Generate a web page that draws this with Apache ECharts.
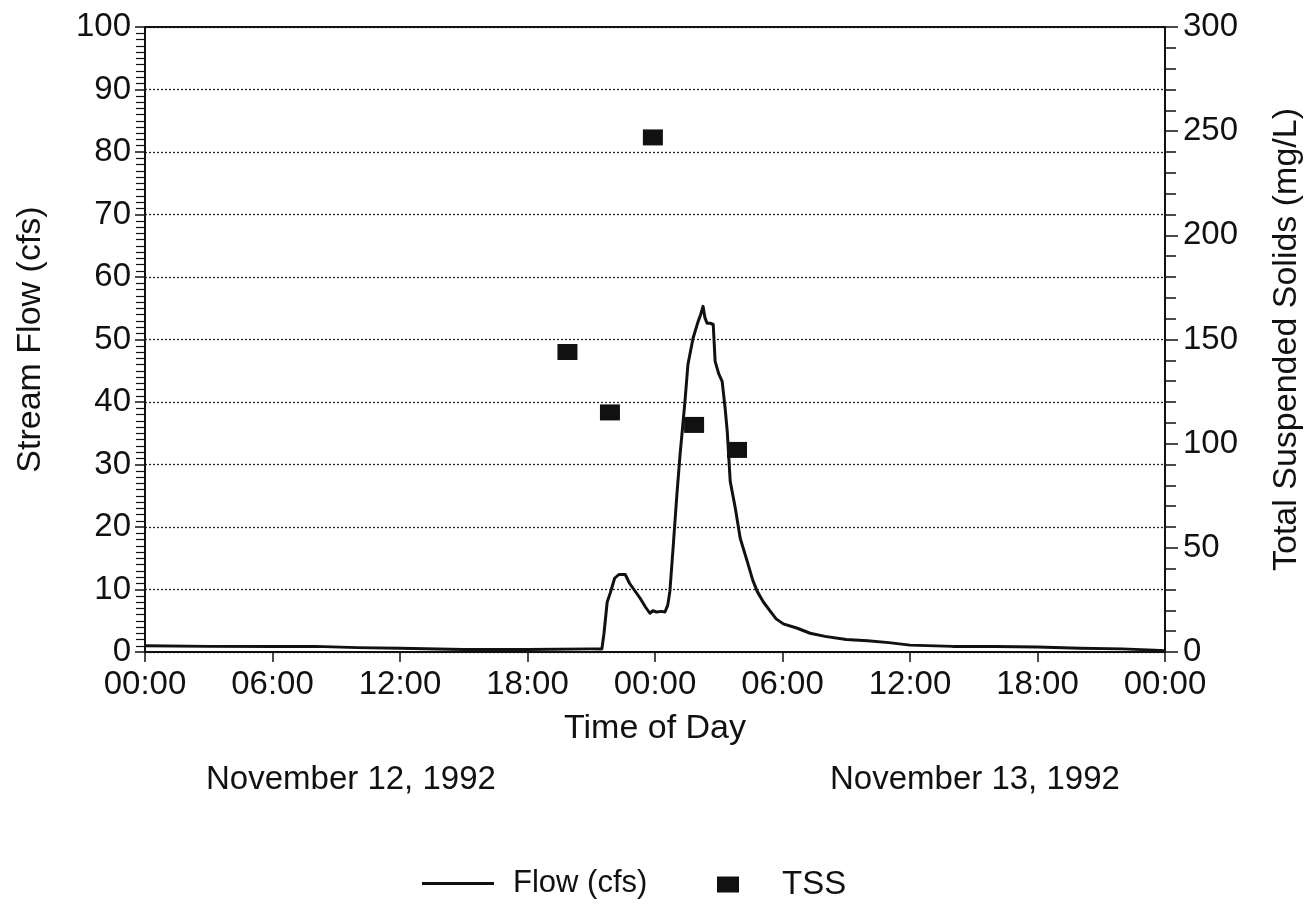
<!DOCTYPE html>
<html>
<head>
<meta charset="utf-8">
<title>Stream Flow and TSS</title>
<script src="https://cdn.jsdelivr.net/npm/echarts@6/dist/echarts.min.js"></script>
<style>
  html, body { margin: 0; padding: 0; background: #fff; }
  #chart { width: 1315px; height: 905px; }
</style>
</head>
<body>
<div id="chart"></div>
<script>
// Hours since 00:00, November 12, 1992
const flowHours = [0, 3, 6, 8, 10, 12, 15, 18, 21, 21.5, 21.6, 21.75, 21.9, 22.1, 22.3, 22.6, 22.8, 23.05, 23.3, 23.55, 23.76, 23.9, 24.07, 24.3, 24.47, 24.6, 24.7, 24.85, 25.03, 25.18, 25.3, 25.41, 25.55, 25.79, 26.03, 26.15, 26.26, 26.35, 26.45, 26.6, 26.74, 26.83, 27.0, 27.16, 27.3, 27.4, 27.54, 27.78, 28.01, 28.34, 28.6, 28.81, 29.1, 29.43, 29.7, 30.04, 30.7, 31.3, 32, 33, 34, 35, 36, 38, 40, 42, 44, 46, 47.5, 48];
// Stream flow, cfs
const flowValues = [1.0, 0.9, 0.9, 0.9, 0.7, 0.6, 0.4, 0.4, 0.5, 0.5, 3, 8, 9.5, 11.8, 12.4, 12.4, 11.0, 9.8, 8.6, 7.2, 6.2, 6.6, 6.4, 6.5, 6.4, 7.5, 9.7, 16.6, 25.2, 31.6, 36, 40.1, 46, 50.2, 52.9, 54, 55.3, 53.5, 52.6, 52.6, 52.4, 46.5, 44.5, 43.3, 39, 35.3, 27.3, 23, 18.2, 14.5, 11.5, 9.7, 8, 6.5, 5.3, 4.5, 3.8, 3.0, 2.5, 2.0, 1.8, 1.5, 1.1, 0.9, 0.9, 0.8, 0.6, 0.5, 0.3, 0.2];
// Total suspended solids samples, mg/L
const tssHours = [19.88, 21.88, 23.9, 25.84, 27.86];
const tssValues = [144, 115, 247, 109, 97];
const timeTicks = ['00:00', '06:00', '12:00', '18:00'];
const dateLabels = ['November 12, 1992', 'November 13, 1992'];

const FONT = '"Liberation Sans", Arial, Helvetica, sans-serif';
const INK = '#111';

const flowData = flowHours.map((h, i) => [h, flowValues[i]]);
const tssData = tssHours.map((h, i) => [h, tssValues[i]]);

const chart = echarts.init(document.getElementById('chart'), null, { renderer: 'canvas' });

const tickText = { color: INK, fontFamily: FONT, fontSize: 33 };
const nameText = { color: INK, fontFamily: FONT, fontSize: 34 };

chart.setOption({
  backgroundColor: '#fff',
  animation: false,
  grid: { left: 145, right: 150, top: 27, bottom: 253 },
  legend: [
    {
      data: [{ name: 'Flow (cfs)', icon: 'rect' }],
      left: 417, top: 863,
      itemWidth: 72, itemHeight: 3,
      textStyle: { color: INK, fontFamily: FONT, fontSize: 31, padding: [0, 0, 0, 14] }
    },
    {
      data: [{ name: 'TSS', icon: 'rect' }],
      left: 712, top: 863,
      itemWidth: 22, itemHeight: 16,
      textStyle: { color: INK, fontFamily: FONT, fontSize: 33, padding: [0, 0, 0, 38] }
    }
  ],
  xAxis: [
    {
      type: 'value', min: 0, max: 48, interval: 6,
      name: 'Time of Day', nameLocation: 'middle', nameGap: 60,
      nameTextStyle: nameText,
      axisLine: { show: true, onZero: false, lineStyle: { color: INK, width: 2 } },
      axisTick: { show: true, length: 10, lineStyle: { color: INK, width: 1.5 } },
      axisLabel: {
        ...tickText, margin: 16,
        formatter: v => timeTicks[(Math.round(v / 6)) % 4]
      },
      splitLine: { show: false }
    },
    {
      type: 'value', min: 0, max: 48, position: 'top',
      axisLine: { show: true, onZero: false, lineStyle: { color: INK, width: 2 } },
      axisTick: { show: false }, axisLabel: { show: false }, splitLine: { show: false }
    }
  ],
  yAxis: [
    {
      type: 'value', min: 0, max: 100, interval: 10, position: 'left',
      name: 'Stream Flow (cfs)', nameLocation: 'middle', nameGap: 97, nameRotate: 90,
      nameTextStyle: nameText,
      axisLine: { show: true, onZero: false, lineStyle: { color: INK, width: 2 } },
      axisTick: { show: true, length: 10, lineStyle: { color: INK, width: 1.5 } },
      minorTick: { show: true, splitNumber: 10, length: 9, lineStyle: { color: INK, width: 1.2 } },
      axisLabel: { ...tickText, margin: 14 },
      splitLine: { show: true, lineStyle: { color: '#222', width: 1.3, type: [2, 2] } }
    },
    {
      type: 'value', min: 0, max: 300, interval: 50, position: 'right',
      name: 'Total Suspended Solids (mg/L)', nameLocation: 'middle', nameGap: 105, nameRotate: 90,
      nameTextStyle: nameText,
      axisLine: { show: true, onZero: false, lineStyle: { color: INK, width: 2 } },
      axisTick: { show: true, length: 13, lineStyle: { color: INK, width: 1.5 } },
      minorTick: { show: true, splitNumber: 5, length: 11, lineStyle: { color: INK, width: 1.5 } },
      axisLabel: { ...tickText, margin: 18 },
      splitLine: { show: false }
    }
  ],
  series: [
    {
      name: 'Flow (cfs)', type: 'line',
      xAxisIndex: 0, yAxisIndex: 0,
      data: flowData,
      showSymbol: false, symbol: 'none',
      lineStyle: { color: INK, width: 3, join: 'round' },
      itemStyle: { color: INK }
    },
    {
      name: 'TSS', type: 'scatter',
      xAxisIndex: 0, yAxisIndex: 1,
      data: tssData,
      symbol: 'rect', symbolSize: [20, 16],
      itemStyle: { color: INK, opacity: 1 }
    }
  ],
  graphic: [
    {
      type: 'text', left: 206, top: 763,
      style: { text: dateLabels[0], fill: INK, font: '33px ' + FONT }
    },
    {
      type: 'text', left: 830, top: 763,
      style: { text: dateLabels[1], fill: INK, font: '33px ' + FONT }
    }
  ]
});
</script>
</body>
</html>
